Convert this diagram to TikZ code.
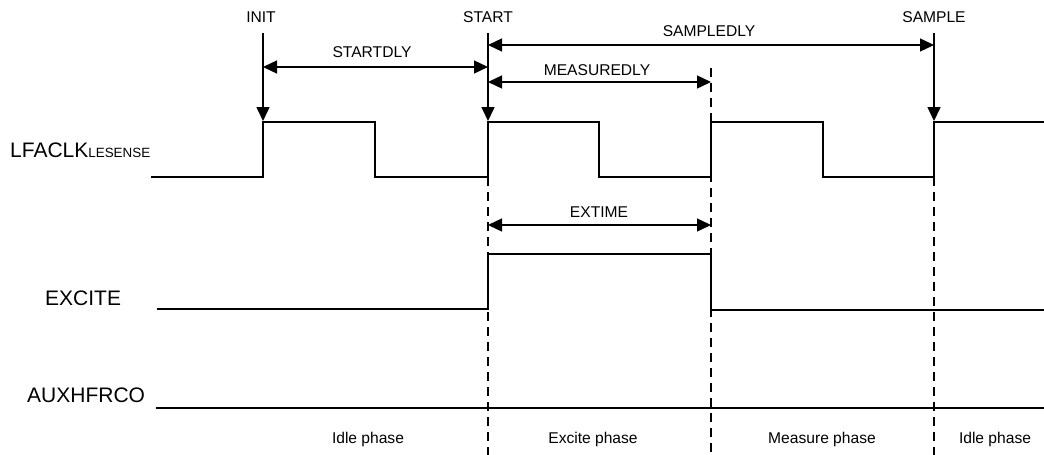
\documentclass[tikz,border=0pt]{standalone}
\usepackage{fontspec}
\setmainfont{Liberation Sans}
\usetikzlibrary{arrows.meta}
\begin{document}
\begin{tikzpicture}[x=1pt,y=-1pt,
  sig/.style={line width=1.6pt, line join=miter},
  guide/.style={line width=1.4pt, dash pattern=on 9pt off 6pt},
  dimarrow/.style={line width=1.4pt, {Triangle[length=14pt,width=13pt]}-{Triangle[length=14pt,width=13pt]}},
  evt/.style={line width=1.6pt, -{Triangle[length=14pt,width=13pt]}},
  lbl/.style={font=\fontsize{15.6}{17}\selectfont, inner sep=0pt, anchor=base},
  sname/.style={font=\fontsize{21}{23}\selectfont, inner sep=0pt, anchor=base west}]
\useasboundingbox (0,0) rectangle (1044,455);

% event labels
\node[lbl] (linit) at (261,22) {INIT};
\node[lbl] (lstart) at (488,22) {START};
\node[lbl] (lsample) at (934,23) {SAMPLE};

% signal names
\node[sname] (nclk) at (10,157) {LFACLK\fontsize{13.4}{14}\selectfont LESENSE};
\node[sname] (nexc) at (45,305) {EXCITE};
\node[sname] (naux) at (27,402) {AUXHFRCO};

% key coordinates
\coordinate (initTop) at (263,33);
\coordinate (initTip) at (263,121);
\coordinate (startTop) at (488,33);
\coordinate (startTip) at (488,121);
\coordinate (sampleTop) at (934,33);
\coordinate (sampleTip) at (934,121);

% event arrows
\draw[evt] (initTop) -- (initTip);
\draw[evt] (startTop) -- (startTip);
\draw[evt] (sampleTop) -- (sampleTip);

% dashed guides
\coordinate (g1a) at (488,177); \coordinate (g1b) at (488,455);
\coordinate (g2a) at (711,68);  \coordinate (g2b) at (711,455);
\coordinate (g3a) at (934,177); \coordinate (g3b) at (934,455);
\draw[guide] (g1a) -- (g1b);
\draw[guide] (g2a) -- (g2b);
\draw[guide] (g3a) -- (g3b);

% clock
\draw[sig] (151,177) -- (263,177) -- (263,122) -- (375,122) -- (375,177)
  -- (488,177) -- (488,122) -- (599,122) -- (599,177) -- (711,177)
  -- (711,122) -- (823,122) -- (823,177) -- (934,177) -- (934,122) -- (1044,122);

% excite
\draw[sig] (157,309) -- (488,309) -- (488,254) -- (711,254) -- (711,310) -- (1044,310);

% auxhfrco
\draw[sig] (156,408) -- (1044,408);

% dimension arrows
\coordinate (sd1) at (263,67);  \coordinate (sd2) at (488,67);
\coordinate (sp1) at (488,45);  \coordinate (sp2) at (934,45);
\coordinate (md1) at (488,82);  \coordinate (md2) at (711,82);
\coordinate (ex1) at (488,225); \coordinate (ex2) at (711,225);
\draw[dimarrow] (sd1) -- (sd2);
\draw[dimarrow] (sp1) -- (sp2);
\draw[dimarrow] (md1) -- (md2);
\draw[dimarrow] (ex1) -- (ex2);

\node[lbl] (lsd) at (372,57) {STARTDLY};
\node[lbl] (lsp) at (709,36) {SAMPLEDLY};
\node[lbl] (lmd) at (597,75) {MEASUREDLY};
\node[lbl] (lex) at (599,217) {EXTIME};

% phases
\node[lbl] (p1) at (368,443) {Idle phase};
\node[lbl] (p2) at (593,443) {Excite phase};
\node[lbl] (p3) at (822,443) {Measure phase};
\node[lbl] (p4) at (995,443) {Idle phase};
\end{tikzpicture}
\end{document}
